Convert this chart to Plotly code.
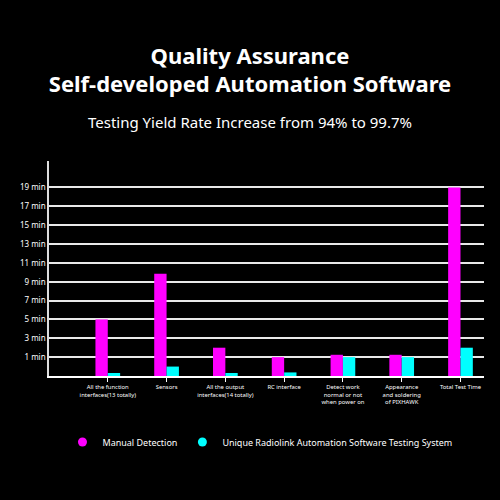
import plotly.graph_objects as go

categories = [
    "All the function<br>interfaces(13 totally)",
    "Sensors",
    "All the output<br>interfaces(14 totally)",
    "RC interface",
    "Detect work<br>normal or not<br>when power on",
    "Appearance<br>and soldering<br>of PIXHAWK",
    "Total Test Time",
]
# bar heights, in axis units (gridlines every 2 units)
manual_detection = [6, 10.85, 3, 2, 2.25, 2.25, 20]
radiolink_system = [0.32, 1, 0.32, 0.38, 2, 2, 3]
tick_vals = [2, 4, 6, 8, 10, 12, 14, 16, 18, 20]
tick_text = ["1 min", "3 min", "5 min", "7 min", "9 min",
             "11 min", "13 min", "15 min", "17 min", "19 min"]

magenta = "#ff00ff"
cyan = "#00ffff"

fig = go.Figure()
fig.add_trace(go.Bar(x=categories, y=manual_detection, name="Manual Detection",
                     marker_color=magenta, marker_line_width=0, showlegend=False))
fig.add_trace(go.Bar(x=categories, y=radiolink_system,
                     name="Unique Radiolink Automation Software Testing System",
                     marker_color=cyan, marker_line_width=0, showlegend=False))
# round legend markers
fig.add_trace(go.Scatter(x=[None], y=[None], mode="markers", name="Manual Detection",
                         marker=dict(color=magenta, size=9, symbol="circle")))
fig.add_trace(go.Scatter(x=[None], y=[None], mode="markers",
                         name="Unique Radiolink Automation Software Testing System",
                         marker=dict(color=cyan, size=9, symbol="circle")))

fig.update_layout(
    width=500, height=500,
    paper_bgcolor="black", plot_bgcolor="black",
    font=dict(family="Noto Sans", color="white"),
    margin=dict(l=49, r=16, t=161, b=124),
    barmode="group", bargap=0.58, bargroupgap=0,
    title=dict(text="<b>Quality Assurance<br>Self-developed Automation Software</b>",
               x=0.5, xanchor="center", y=0.873, yanchor="middle",
               font=dict(size=22, color="white")),
    annotations=[dict(text="Testing Yield Rate Increase from 94% to 99.7%",
                      xref="paper", yref="paper", x=(250 - 49) / 435, y=(376 - 122) / 215,
                      xanchor="center", yanchor="middle", showarrow=False,
                      font=dict(size=15, color="white"))],
    legend=dict(orientation="h", x=0.485, xanchor="center", y=-0.307, yanchor="middle",
                font=dict(size=9, color="white"), bgcolor="rgba(0,0,0,0)",
                itemwidth=30),
)
fig.update_xaxes(range=[-1, 6.4], showline=True, linecolor="white", linewidth=1.5,
                 ticks="outside", ticklen=4, tickcolor="white",
                 tickfont=dict(size=5.9, color="white"), tickangle=0,
                 showgrid=False, zeroline=False)
fig.update_yaxes(range=[0, 22.8], tickvals=tick_vals, ticktext=tick_text,
                 showline=True, linecolor="#dddddd", linewidth=1.5,
                 gridcolor="#e8e8e8", gridwidth=1.5, zeroline=False,
                 tickfont=dict(size=8, color="white"), ticks="")

fig.write_html("out.html", config={"displayModeBar": False},
               post_script="document.body.style.margin='0';"
                           "document.body.style.background='black';")
